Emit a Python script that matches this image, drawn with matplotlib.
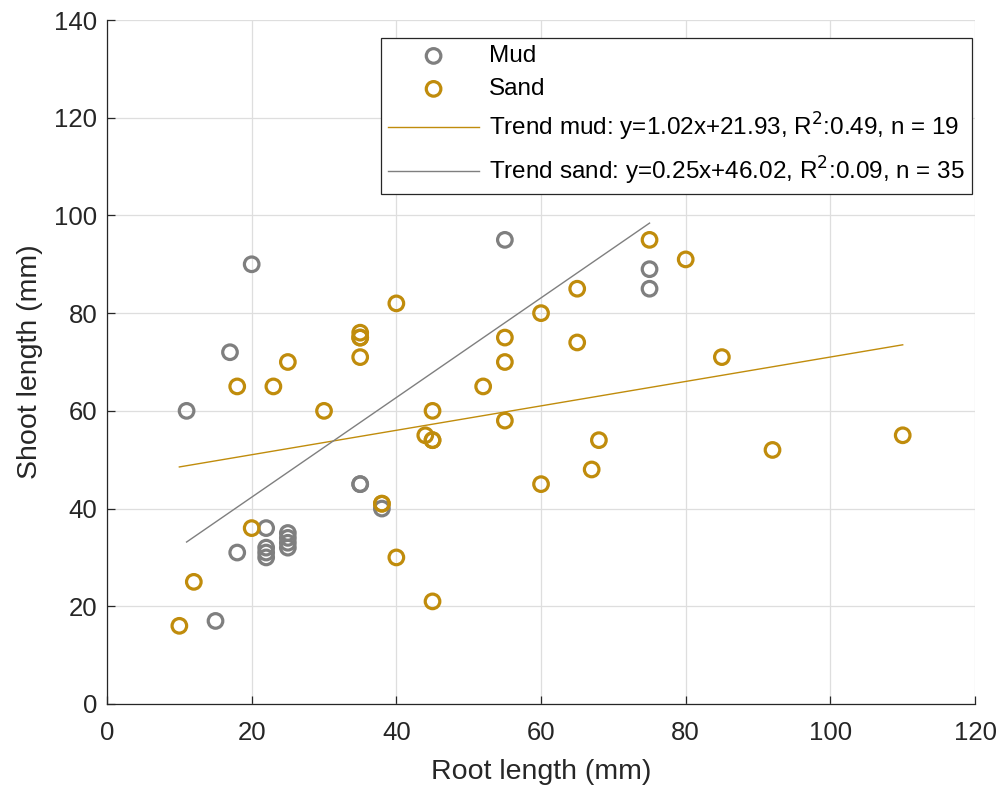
import matplotlib
matplotlib.use("Agg")
import matplotlib.pyplot as plt
import numpy as np

plt.rcParams['font.family'] = ['Liberation Sans', 'DejaVu Sans']

# mud samples (root, shoot) in mm
mud_root = [20, 17, 11, 35, 35, 38, 22, 25, 25, 25, 25, 22, 22, 22, 18, 15, 55, 75, 75]
mud_shoot = [90, 72, 60, 45, 45, 40, 36, 35, 34, 33, 32, 32, 31, 30, 31, 17, 95, 89, 85]

# sand samples
sand_root = [10, 12, 20, 18, 23, 25, 30, 35, 35, 35, 35, 40, 38, 40, 44, 45, 45, 45,
             52, 55, 55, 55, 60, 60, 65, 65, 67, 68, 75, 80, 85, 92, 110, 38, 45]
sand_shoot = [16, 25, 36, 65, 65, 70, 60, 76, 75, 75, 71, 82, 41, 30, 55, 54, 60, 21,
              65, 75, 70, 58, 80, 45, 85, 74, 48, 54, 95, 91, 71, 52, 55, 41, 54]

# trend lines: slope, intercept, x range
mud_fit = (1.02, 21.93)
mud_xr = [11, 75]
sand_fit = (0.25, 46.02)
sand_xr = [10, 110]

gray = '#7f7f7f'
gold = '#c08c0c'
txt = '#262626'

fig = plt.figure(figsize=(10.02, 7.91), dpi=100)
ax = fig.add_axes([0.1068, 0.110, 0.8663, 0.8647])

ax.scatter(mud_root, mud_shoot, s=110, facecolors='none', edgecolors=gray, linewidths=2.3, label='Mud', zorder=3)
ax.scatter(sand_root, sand_shoot, s=110, facecolors='none', edgecolors=gold, linewidths=2.3, label='Sand', zorder=3)

xm = np.array(mud_xr)
xs = np.array(sand_xr)
ax.plot(xs, sand_fit[0] * xs + sand_fit[1], color=gold, lw=1.0,
        label='Trend mud: y=1.02x+21.93, R$^2$:0.49, n = 19')
ax.plot(xm, mud_fit[0] * xm + mud_fit[1], color=gray, lw=1.0,
        label='Trend sand: y=0.25x+46.02, R$^2$:0.09, n = 35')

ax.set_xlim(0, 120)
ax.set_ylim(0, 140)
ax.set_xticks(np.arange(0, 121, 20))
ax.set_yticks(np.arange(0, 141, 20))
ax.grid(True, color='#dedede', lw=0.9)
ax.set_axisbelow(True)
ax.tick_params(direction='in', labelsize=18.5, colors=txt, length=6, width=0.9, pad=7)
ax.tick_params(axis='x', pad=12)
ax.spines['top'].set_visible(False)
ax.spines['right'].set_visible(False)
for s in ['left', 'bottom']:
    ax.spines[s].set_color(txt)
    ax.spines[s].set_linewidth(0.9)
ax.set_xlabel('Root length (mm)', fontsize=20.5, color=txt, labelpad=10)
ax.set_ylabel('Shoot length (mm)', fontsize=20.5, color=txt, labelpad=8)

leg = ax.legend(loc='upper right', bbox_to_anchor=(0.9965, 0.9737), borderaxespad=0,
                fontsize=17.5, fancybox=False, edgecolor='#262626', framealpha=1,
                handlelength=3.75, handletextpad=0.4, labelspacing=0.45, borderpad=0.3)
leg.get_frame().set_linewidth(0.9)
for t in leg.get_texts():
    t.set_color('#000000')

fig.savefig('out.png', dpi=100)
